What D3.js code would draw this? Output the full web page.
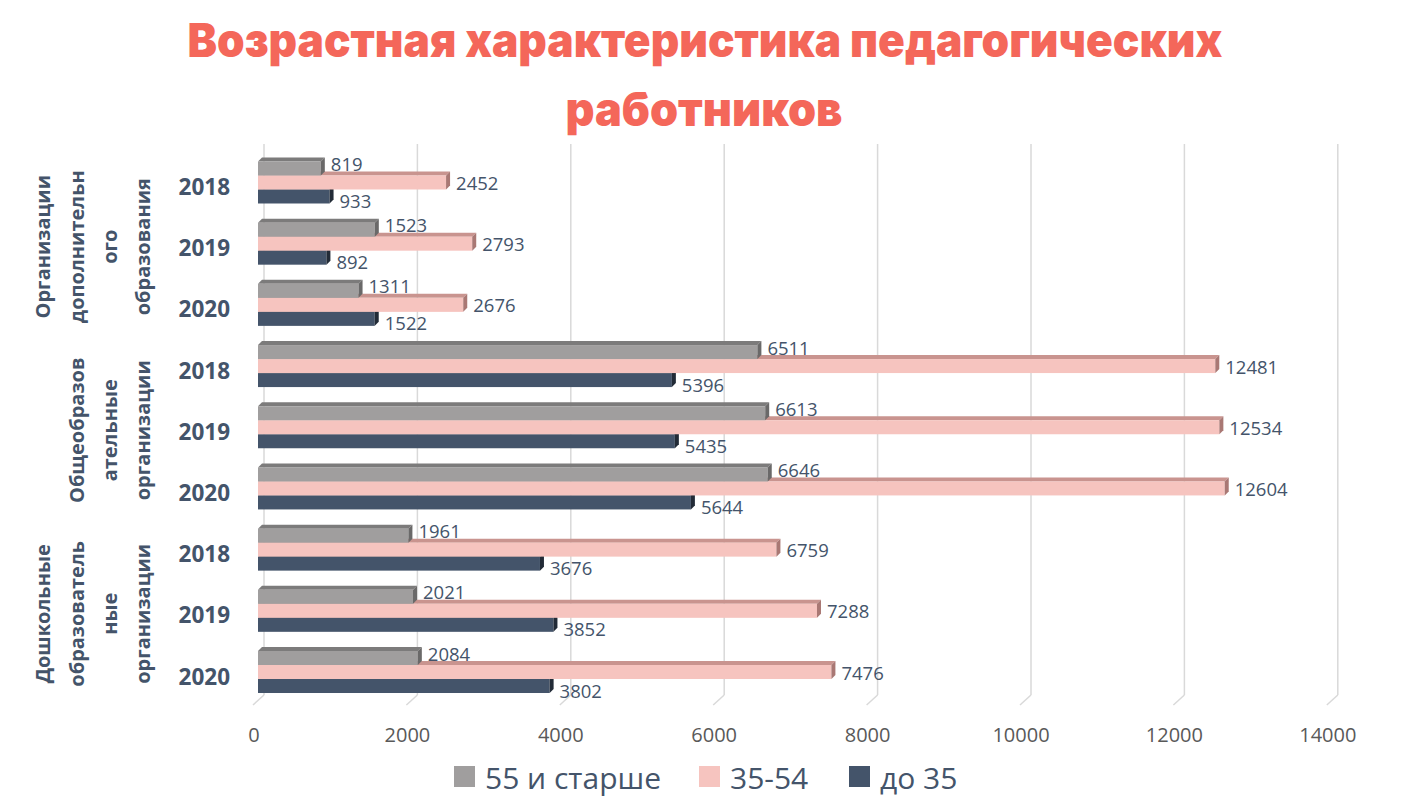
<!DOCTYPE html>
<html>
<head>
<meta charset="utf-8">
<script src="https://cdnjs.cloudflare.com/ajax/libs/d3/7.8.5/d3.min.js"></script>
<style>
  body { margin: 0; background: #fff; }
  svg { display: block; }
</style>
</head>
<body>
<div id="container"></div>
<script>
const w = 1415;
const h = 811;

// data
const groups = [
  ["Организации", "дополнительн", "ого", "образования"],
  ["Общеобразов", "ательные", "организации"],
  ["Дошкольные", "образователь", "ные", "организации"]
];
const years = ["2018", "2019", "2020"];
const series = ["55 и старше", "35-54", "до 35"];
const older = [819, 1523, 1311, 6511, 6613, 6646, 1961, 2021, 2084];
const middle = [2452, 2793, 2676, 12481, 12534, 12604, 6759, 7288, 7476];
const younger = [933, 892, 1522, 5396, 5435, 5644, 3676, 3852, 3802];
const ticks = [0, 2000, 4000, 6000, 8000, 10000, 12000, 14000];

const colors = {
  "55 и старше": { front: "#A09E9E", top: "#7C7B7B", side: "#6A6969" },
  "35-54": { front: "#F6C4BF", top: "#C9948F", side: "#A97874" },
  "до 35": { front: "#44546A", top: "#2D3847", side: "#222B37" }
};
const textColor = "#44546A";
const depth = 4;

const svg = d3.select("#container")
              .append("svg")
              .attr("width", w)
              .attr("height", h);

// title
const title = svg.append("g")
                 .attr("fill", "#F4675A")
                 .style("font-family", "Inter, 'Open Sans', sans-serif")
                 .style("font-weight", 900)
                 .style("font-size", "47px")
                 .attr("text-anchor", "middle");
title.append("text")
     .attr("x", 705)
     .attr("y", 57)
     .attr("textLength", 1035)
     .attr("lengthAdjust", "spacingAndGlyphs")
     .text("Возрастная характеристика педагогических");
title.append("text")
     .attr("x", 704)
     .attr("y", 126)
     .attr("textLength", 277)
     .attr("lengthAdjust", "spacingAndGlyphs")
     .text("работников");

// scales
const x = d3.scaleLinear().domain([0, 14000]).range([258, 258 + 14000 * 0.0767]);
const rows = d3.range(9);
const y = d3.scaleBand().domain(rows).range([151.9, 702.6]);
const inner = d3.scaleBand().domain(series).range([-21, 21]);

// grid (back wall + floor)
const grid = svg.append("g").attr("stroke", "#D9D9D9").attr("stroke-width", 1.5).attr("fill", "none");
grid.selectAll("line.v")
    .data(ticks)
    .enter()
    .append("line")
    .attr("class", "v")
    .attr("x1", d => x(d) + 6)
    .attr("x2", d => x(d) + 6)
    .attr("y1", 144)
    .attr("y2", 695);
grid.selectAll("line.f")
    .data(ticks)
    .enter()
    .append("line")
    .attr("class", "f")
    .attr("x1", d => x(d) + 6)
    .attr("x2", d => x(d) - 5)
    .attr("y1", 695)
    .attr("y2", 705);

// tick labels
svg.append("g")
   .selectAll("text")
   .data(ticks)
   .enter()
   .append("text")
   .attr("x", d => x(d) - 4)
   .attr("y", 742)
   .attr("text-anchor", "middle")
   .attr("fill", "#595959")
   .style("font-family", "'Open Sans', sans-serif")
   .style("font-size", "20px")
   .text(d => d);

// bars
const values = { "55 и старше": older, "35-54": middle, "до 35": younger };
const bars = [];
rows.forEach(r => {
  // draw bottom bar first so the upper bar covers its top face
  series.slice().reverse().forEach(s => bars.push({ row: r, s: s, v: values[s][r] }));
});

const center = r => y(r) + y.bandwidth() / 2;
const barTop = d => center(d.row) + inner(d.s);
const bh = inner.bandwidth();

const barG = svg.append("g")
                .selectAll("g")
                .data(bars)
                .enter()
                .append("g");

barG.append("polygon")
    .attr("fill", d => colors[d.s].top)
    .attr("points", d => {
      const x0 = x(0), x1 = x(d.v), t = barTop(d);
      return [[x0, t], [x0 + depth, t - depth], [x1 + depth, t - depth], [x1, t]].join(" ");
    });
barG.append("rect")
    .attr("x", x(0))
    .attr("y", d => barTop(d))
    .attr("width", d => x(d.v) - x(0))
    .attr("height", bh)
    .attr("fill", d => colors[d.s].front);
barG.append("polygon")
    .attr("fill", d => colors[d.s].side)
    .attr("points", d => {
      const x1 = x(d.v), t = barTop(d);
      return [[x1, t], [x1 + depth, t - depth], [x1 + depth, t + bh - depth], [x1, t + bh]].join(" ");
    });

// value labels
const labelShift = { "55 и старше": -5, "35-54": 0, "до 35": 4 };
svg.append("g")
   .selectAll("text")
   .data(bars)
   .enter()
   .append("text")
   .attr("x", d => x(d.v) + depth + 6)
   .attr("y", d => barTop(d) + bh / 2 + labelShift[d.s])
   .attr("dominant-baseline", "central")
   .attr("fill", textColor)
   .style("font-family", "'Open Sans', sans-serif")
   .style("font-size", "18.5px")
   .text(d => d.v);

// year labels
svg.append("g")
   .selectAll("text")
   .data(rows)
   .enter()
   .append("text")
   .attr("x", 230)
   .attr("y", d => center(d) + 4)
   .attr("text-anchor", "end")
   .attr("dominant-baseline", "central")
   .attr("fill", textColor)
   .style("font-family", "'Open Sans', sans-serif")
   .style("font-weight", "bold")
   .style("font-size", "22.5px")
   .text(d => years[d % 3]);

// group labels (rotated, wrapped like the original)
const lineX = [42, 76, 109, 142];
groups.forEach((lines, gi) => {
  const cy = center(gi * 3 + 1) + 3;
  const offset = 4 - lines.length;
  svg.append("g")
     .selectAll("text")
     .data(lines)
     .enter()
     .append("text")
     .attr("transform", (d, i) => "translate(" + lineX[i + offset] + "," + cy + ") rotate(-90)")
     .attr("text-anchor", "middle")
     .attr("dominant-baseline", "central")
     .attr("fill", textColor)
     .style("font-family", "'Open Sans', sans-serif")
     .style("font-weight", "bold")
     .style("font-size", "20px")
     .text(d => d);
});

// legend
const legendX = [454, 699, 849];
const legend = svg.append("g")
                  .selectAll("g")
                  .data(series)
                  .enter()
                  .append("g")
                  .attr("transform", (d, i) => "translate(" + legendX[i] + ",766)");
legend.append("rect")
      .attr("width", 21)
      .attr("height", 21)
      .attr("fill", d => colors[d].front);
legend.append("text")
      .attr("x", 31)
      .attr("y", 11)
      .attr("dominant-baseline", "central")
      .attr("fill", textColor)
      .style("font-family", "'Open Sans', sans-serif")
      .style("font-size", "30px")
      .text(d => d);
</script>
</body>
</html>
